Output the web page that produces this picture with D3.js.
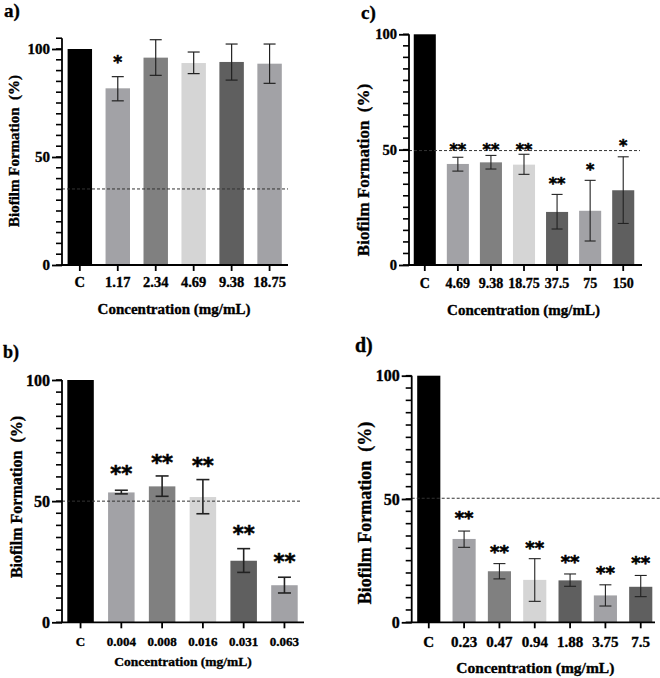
<!DOCTYPE html>
<html>
<head>
<meta charset="utf-8">
<script src="https://cdn.jsdelivr.net/npm/d3@7"></script>
<style>
  body { margin: 0; background: #fff; }
  text { font-family: "Liberation Serif", "Times New Roman", serif; font-weight: bold; fill: #000; stroke: #000; stroke-width: 0.35px; }
</style>
</head>
<body>
<script>
// bar values, per panel

var catsA = ['C', '1.17', '2.34', '4.69', '9.38', '18.75'];
var meanA = [100, 81.8, 96, 93.5, 94, 93.2];
var loA   = [100, 76, 87.8, 88.6, 85.6, 84.1];
var hiA   = [100, 87.2, 104.3, 98.6, 102.3, 102.3];
var sigA  = ['', '*', '', '', '', ''];
var sigYA = [0, 95.4, 0, 0, 0, 0];
var refA  = 35.2;

var catsB = ['C', '0.004', '0.008', '0.016', '0.031', '0.063'];
var meanB = [100, 53.6, 56.1, 51.7, 25.4, 15.3];
var loB   = [100, 53, 52, 44.8, 20.6, 12.1];
var hiB   = [100, 54.5, 60.4, 58.9, 30.4, 18.6];
var sigB  = ['', '**', '**', '**', '**', '**'];
var sigYB = [0, 63, 67.7, 66.3, 38.5, 26.8];
var refB  = 50;

var catsC = ['C', '4.69', '9.38', '18.75', '37.5', '75', '150'];
var meanC = [100, 43.8, 44.5, 43.5, 23, 23.5, 32.4];
var loC   = [100, 40.7, 41.6, 39.3, 15.6, 10.4, 18];
var hiC   = [100, 46.7, 47.5, 48, 30.6, 36.7, 46.9];
var sigC  = ['', '**', '**', '**', '**', '*', '*'];
var sigYC = [0, 51.6, 51.6, 51.6, 36.8, 43, 53.4];
var refC  = 49.6;

var catsD = ['C', '0.23', '0.47', '0.94', '1.88', '3.75', '7.5'];
var meanD = [100, 33.8, 20.7, 17.2, 17, 10.9, 14.4];
var loD   = [100, 30.4, 17.6, 8.5, 14.6, 6.6, 10.4];
var hiD   = [100, 37, 23.8, 25.8, 19.6, 15.2, 19];
var sigD  = ['', '**', '**', '**', '**', '**', '**'];
var sigYD = [0, 43.9, 30, 31.6, 26.1, 21.7, 25.5];
var refD  = 50.3;

var yTicks = [0, 50, 100];

var black = '#000000', lmid = '#a2a2a6', mid = '#808080', light = '#d5d5d5', dark = '#5f5f5f';
var fills6 = [black, lmid, mid, light, dark, lmid];
var fills7 = [black, lmid, mid, light, dark, lmid, dark];

var serif = '"Liberation Serif", "Times New Roman", serif';

var svg = d3.select('body').append('svg')
  .attr('width', 660)
  .attr('height', 678);

var drawPanel = function(p) {
  var g = svg.append('g');

  var y = d3.scaleLinear()
    .domain([0, p.yMax])
    .range([p.y0, p.y0 - (p.y0 - p.y100) * p.yMax / 100]);

  var x = d3.scaleBand()
    .domain(p.cats)
    .range(p.band)
    .paddingInner(p.pad)
    .paddingOuter(0);

  var rows = p.cats.map(function(c, i) {
    return {cat: c, mean: p.mean[i], lo: p.lo[i], hi: p.hi[i], sig: p.sig[i], sigY: p.sigY[i], fill: p.fills[i]};
  });

  // bars
  g.selectAll('rect.bar')
    .data(rows)
    .enter()
    .append('rect')
    .attr('class', 'bar')
    .attr('x', function(d) { return x(d.cat); })
    .attr('y', function(d) { return y(d.mean); })
    .attr('width', x.bandwidth())
    .attr('height', function(d) { return y(0) - y(d.mean); })
    .attr('fill', function(d) { return d.fill; });

  // error bars
  var errs = rows.filter(function(d) { return d.hi > d.lo; });
  var cx = function(d) { return x(d.cat) + x.bandwidth() / 2; };
  g.selectAll('line.err')
    .data(errs)
    .enter()
    .append('line')
    .attr('x1', cx).attr('x2', cx)
    .attr('y1', function(d) { return y(d.lo); })
    .attr('y2', function(d) { return y(d.hi); })
    .attr('stroke', '#222').attr('stroke-width', p.errW);
  ['lo', 'hi'].forEach(function(k) {
    g.selectAll('line.cap' + k)
      .data(errs)
      .enter()
      .append('line')
      .attr('x1', function(d) { return cx(d) - p.cap / 2; })
      .attr('x2', function(d) { return cx(d) + p.cap / 2; })
      .attr('y1', function(d) { return y(d[k]); })
      .attr('y2', function(d) { return y(d[k]); })
      .attr('stroke', '#222').attr('stroke-width', p.errW);
  });

  // dashed reference line
  g.append('line')
    .attr('x1', p.axisX).attr('x2', p.dashEnd)
    .attr('y1', y(p.ref)).attr('y2', y(p.ref))
    .attr('stroke', '#333')
    .attr('stroke-width', 1)
    .attr('stroke-dasharray', '3,2');

  // significance stars
  g.selectAll('text.sig')
    .data(rows.filter(function(d) { return d.sig; }))
    .enter()
    .append('text')
    .attr('x', cx)
    .attr('y', function(d) { return y(d.sigY) + p.starFs * 0.56; })
    .attr('text-anchor', 'middle')
    .style('font-family', '"DejaVu Sans", sans-serif')
    .style('font-size', p.starFs + 'px')
    .style('stroke-width', '0.6px')
    .text(function(d) { return d.sig; });

  // y axis: minor ticks every 5
  var minor = d3.range(0, p.yMax + 0.1, 5);
  g.selectAll('line.minor')
    .data(minor)
    .enter()
    .append('line')
    .attr('class', 'minor')
    .attr('x1', p.axisX - 6).attr('x2', p.axisX)
    .attr('y1', function(d) { return y(d); })
    .attr('y2', function(d) { return y(d); })
    .attr('stroke', '#000').attr('stroke-width', 1.6);
  g.append('line')
    .attr('x1', p.axisX).attr('x2', p.axisX)
    .attr('y1', y(0)).attr('y2', y(p.yMax))
    .attr('stroke', '#000').attr('stroke-width', 1.8);
  g.append('g')
    .attr('transform', 'translate(' + p.axisX + ',0)')
    .call(d3.axisLeft(y).tickValues(yTicks).tickSize(10).tickSizeOuter(0).tickPadding(2))
    .call(function(a) {
      a.select('.domain').remove();
      a.selectAll('line').attr('stroke', '#000').attr('stroke-width', 1.8);
      a.selectAll('text')
        .style('font-family', serif)
        .style('font-weight', 'bold')
        .style('font-size', p.yFs + 'px');
    });

  // x axis
  g.append('line')
    .attr('x1', p.axisX - 0.9).attr('x2', p.axisEnd)
    .attr('y1', y(0)).attr('y2', y(0))
    .attr('stroke', '#000').attr('stroke-width', 1.8);
  g.append('g')
    .attr('transform', 'translate(0,' + y(0) + ')')
    .call(d3.axisBottom(x).tickSize(6).tickSizeOuter(0).tickPadding(p.xPad))
    .call(function(a) {
      a.select('.domain').remove();
      a.selectAll('line').attr('stroke', '#000').attr('stroke-width', 1.8);
      a.selectAll('text')
        .style('font-family', serif)
        .style('font-weight', 'bold')
        .style('font-size', p.xFs + 'px');
    });

  // titles
  g.append('text')
    .attr('x', (p.axisX + p.axisEnd) / 2 + p.xtDx)
    .attr('y', p.xtY)
    .attr('text-anchor', 'middle')
    .style('font-size', p.xtFs + 'px')
    .text('Concentration (mg/mL)');

  g.append('text')
    .attr('transform', 'translate(' + p.ytX + ',' + p.ytY + ') rotate(-90)')
    .attr('text-anchor', 'middle')
    .style('font-size', p.ytFs + 'px')
    .style('white-space', 'pre')
    .text('Biofilm Formation  (%)');

  g.append('text')
    .attr('x', p.tagX).attr('y', p.tagY)
    .style('font-size', p.tagFs + 'px')
    .text(p.tag);
};

drawPanel({
  tag: 'a)', tagX: 4, tagY: 17, tagFs: 19,
  cats: catsA, mean: meanA, lo: loA, hi: hiA, sig: sigA, sigY: sigYA, ref: refA, fills: fills6,
  yMax: 105, y0: 265, y100: 49, axisX: 62, axisEnd: 288, dashEnd: 288,
  band: [67.6, 281.8], pad: 0.356, cap: 12, errW: 1.2,
  yFs: 15, xFs: 14.5, xPad: 6, xtFs: 15, xtY: 314, xtDx: -1,
  ytX: 19, ytY: 151, ytFs: 15, starFs: 17
});

drawPanel({
  tag: 'b)', tagX: 3, tagY: 358, tagFs: 18,
  cats: catsB, mean: meanB, lo: loB, hi: hiB, sig: sigB, sigY: sigYB, ref: refB, fills: fills6,
  yMax: 100, y0: 622.3, y100: 380, axisX: 62, axisEnd: 304, dashEnd: 302,
  band: [67.3, 297.7], pad: 0.35, cap: 13, errW: 1.6,
  yFs: 16, xFs: 13, xPad: 8, xtFs: 13.5, xtY: 666, xtDx: 0,
  ytX: 22, ytY: 497, ytFs: 16, starFs: 21
});

drawPanel({
  tag: 'c)', tagX: 361, tagY: 19, tagFs: 19,
  cats: catsC, mean: meanC, lo: loC, hi: hiC, sig: sigC, sigY: sigYC, ref: refC, fills: fills7,
  yMax: 100, y0: 265, y100: 34.3, axisX: 409, axisEnd: 642, dashEnd: 640,
  band: [413.75, 634.25], pad: 0.333, cap: 11, errW: 1.1,
  yFs: 14.5, xFs: 14, xPad: 7, xtFs: 15, xtY: 315, xtDx: -2,
  ytX: 369, ytY: 170, ytFs: 17, starFs: 16
});

drawPanel({
  tag: 'd)', tagX: 355, tagY: 352, tagFs: 20,
  cats: catsD, mean: meanD, lo: loD, hi: hiD, sig: sigD, sigY: sigYD, ref: refD, fills: fills7,
  yMax: 100, y0: 622.3, y100: 375.7, axisX: 411.7, axisEnd: 655, dashEnd: 660,
  band: [417.2, 652.3], pad: 0.345, cap: 12, errW: 1.1,
  yFs: 16, xFs: 15, xPad: 8, xtFs: 15.5, xtY: 673, xtDx: 2,
  ytX: 371, ytY: 513, ytFs: 18, starFs: 18
});
</script>
</body>
</html>
